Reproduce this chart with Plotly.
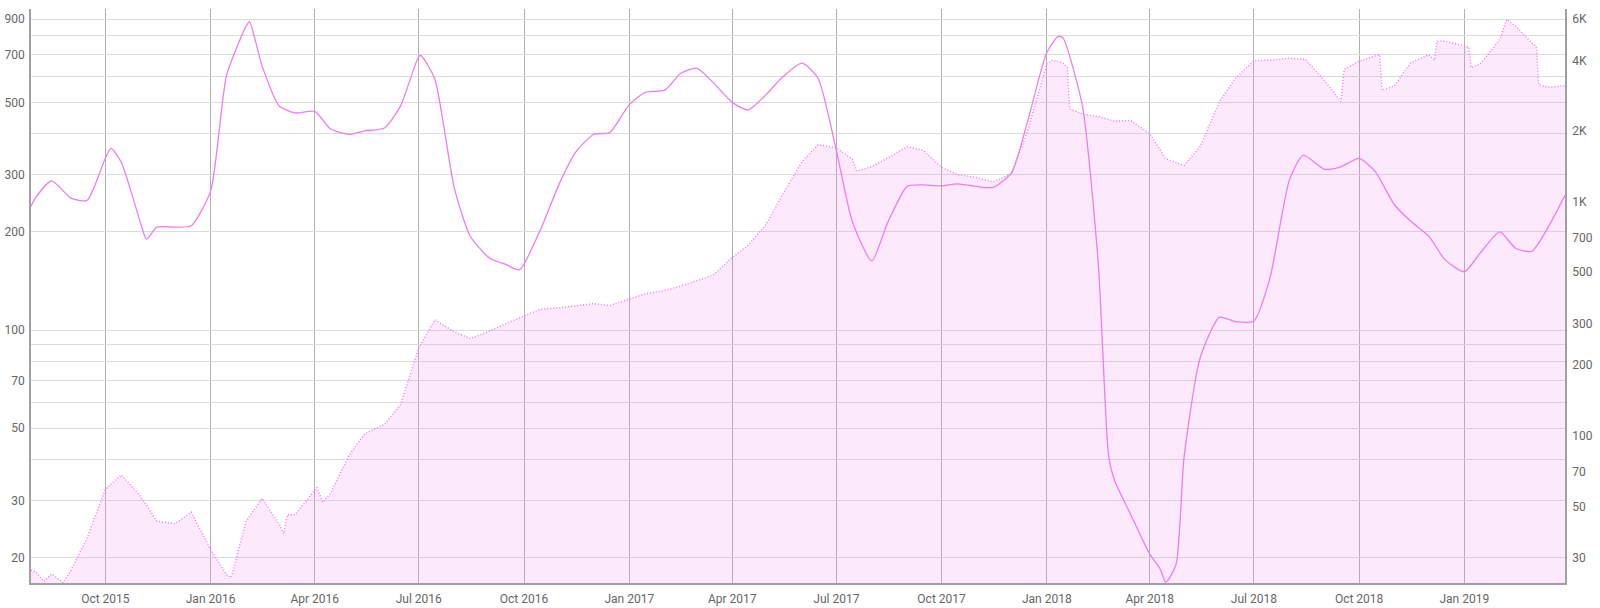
import plotly.graph_objects as go

# Solid line (left axis)
solid_dates = [
    "2015-07-28", "2015-08-01", "2015-08-15", "2015-09-01", "2015-09-15", "2015-10-01", "2015-10-06",
    "2015-10-15", "2015-11-01", "2015-11-06", "2015-11-15", "2015-12-01", "2015-12-15", "2016-01-01",
    "2016-01-15", "2016-02-01", "2016-02-04", "2016-02-15", "2016-03-01", "2016-03-15", "2016-04-01",
    "2016-04-15", "2016-05-01", "2016-05-15", "2016-06-01", "2016-06-15", "2016-07-01", "2016-07-03",
    "2016-07-15", "2016-08-01", "2016-08-15", "2016-09-01", "2016-09-15", "2016-09-27", "2016-10-15",
    "2016-11-01", "2016-11-15", "2016-12-01", "2016-12-15", "2017-01-01", "2017-01-15", "2017-02-01",
    "2017-02-15", "2017-03-01", "2017-03-15", "2017-04-01", "2017-04-15", "2017-05-01", "2017-05-15",
    "2017-06-01", "2017-06-15", "2017-07-01", "2017-07-15", "2017-08-01", "2017-08-15", "2017-09-01",
    "2017-09-15", "2017-10-01", "2017-10-15", "2017-11-01", "2017-11-15", "2017-12-01", "2017-12-15",
    "2018-01-01", "2018-01-11", "2018-01-15", "2018-02-01", "2018-02-15", "2018-02-24", "2018-03-01",
    "2018-03-15", "2018-04-01", "2018-04-10", "2018-04-15", "2018-04-24", "2018-05-01", "2018-05-15",
    "2018-06-01", "2018-06-15", "2018-07-01", "2018-07-15", "2018-08-01", "2018-08-13", "2018-09-01",
    "2018-09-15", "2018-10-01", "2018-10-15", "2018-11-01", "2018-11-15", "2018-12-01", "2018-12-15",
    "2019-01-01", "2019-01-15", "2019-02-01", "2019-02-15", "2019-03-01", "2019-03-15", "2019-03-30",
]
solid_values = [
    240, 255, 287, 254, 250, 337, 361,
    327, 212, 190, 207, 207, 209, 267,
    606, 856, 884, 647, 487, 464, 469,
    414, 399, 409, 417, 487, 692, 696,
    590, 273, 194, 166, 159, 153, 202,
    282, 351, 399, 404, 492, 537, 545,
    614, 637, 577, 500, 474, 530, 598,
    660, 593, 356, 215, 163, 214, 276,
    279, 277, 281, 276, 274, 303, 434,
    711, 797, 790, 490, 160, 41.3, 34.7,
    27.3, 20.5, 18.5, 16.8, 19.1, 40.7, 82,
    109.5, 106.1, 106.6, 144, 288, 344, 311.5,
    317, 336.5, 307, 242, 216, 194, 164.5,
    151, 172.6, 200, 178, 174.4, 206, 259,
]

# Dotted filled area (right axis)
area_dates = [
    "2015-07-28", "2015-08-01", "2015-08-08", "2015-08-15", "2015-08-25", "2015-09-01", "2015-09-15",
    "2015-10-01", "2015-10-15", "2015-11-01", "2015-11-15", "2015-12-01", "2015-12-15", "2016-01-01",
    "2016-01-15", "2016-01-19", "2016-02-01", "2016-02-15", "2016-03-01", "2016-03-05", "2016-03-08",
    "2016-03-15", "2016-04-03", "2016-04-08", "2016-04-15", "2016-05-01", "2016-05-15", "2016-06-01",
    "2016-06-15", "2016-07-01", "2016-07-15", "2016-08-01", "2016-08-15", "2016-09-01", "2016-09-15",
    "2016-10-01", "2016-10-15", "2016-11-01", "2016-11-15", "2016-12-01", "2016-12-15", "2017-01-01",
    "2017-01-15", "2017-02-01", "2017-02-15", "2017-03-01", "2017-03-15", "2017-04-01", "2017-04-15",
    "2017-05-01", "2017-05-15", "2017-06-01", "2017-06-15", "2017-07-01", "2017-07-15", "2017-07-19",
    "2017-08-01", "2017-08-15", "2017-09-01", "2017-09-15", "2017-10-01", "2017-10-15", "2017-11-01",
    "2017-11-15", "2017-12-01", "2017-12-15", "2018-01-01", "2018-01-06", "2018-01-15", "2018-01-19",
    "2018-01-21", "2018-02-01", "2018-02-15", "2018-03-01", "2018-03-15", "2018-04-01", "2018-04-15",
    "2018-05-01", "2018-05-15", "2018-06-01", "2018-06-15", "2018-07-01", "2018-07-15", "2018-08-01",
    "2018-08-15", "2018-09-01", "2018-09-15", "2018-09-18", "2018-10-01", "2018-10-15", "2018-10-19",
    "2018-10-21", "2018-11-01", "2018-11-15", "2018-12-01", "2018-12-06", "2018-12-08", "2018-12-15",
    "2019-01-01", "2019-01-05", "2019-01-07", "2019-01-15", "2019-02-01", "2019-02-07", "2019-02-15",
    "2019-03-01", "2019-03-05", "2019-03-07", "2019-03-15", "2019-03-30",
]
area_values = [
    26.7, 26.4, 23.9, 25.7, 23.6, 26.7, 36.6,
    59.2, 68.1, 55.0, 43.2, 42.1, 47.2, 32.7,
    25.5, 24.8, 43.2, 54.0, 41.9, 38.2, 46.0,
    46.0, 60.3, 52.0, 57.0, 82.6, 102.3, 111.8,
    135.6, 237, 313, 278, 260, 280, 301,
    324.5, 347, 352, 358.5, 366.6, 360, 383,
    404, 417, 436, 459.5, 484, 576, 651,
    803, 1072, 1479, 1747, 1696, 1518, 1348,
    1410, 1535, 1715, 1653, 1399, 1304, 1266,
    1211, 1314, 1988, 3869, 4017, 3912, 3729,
    2483, 2366, 2306, 2205, 2222, 1952, 1523,
    1425, 1715, 2674, 3363, 3987, 4017, 4091,
    4047, 3277, 2674, 3661, 3972, 4182, 4230,
    2987, 3123, 3912, 4230, 4017, 4832, 4832,
    4621, 4571, 3729, 3869, 4921, 5988, 5603,
    4744, 4600, 3158, 3077, 3123,
]

left_ticks = [20, 30, 40, 50, 60, 70, 80, 90, 100, 200, 300, 400, 500, 600, 700, 800, 900]
left_labels = ["20", "30", "", "50", "", "70", "", "", "100", "200", "300", "", "500", "", "700", "", "900"]
right_ticks = [30, 50, 70, 100, 200, 300, 500, 700, 1000, 2000, 4000, 6000]
right_labels = ["30", "50", "70", "100", "200", "300", "500", "700", "1K", "2K", "4K", "6K"]
x_ticks = ["2015-10-01", "2016-01-01", "2016-04-01", "2016-07-01", "2016-10-01", "2017-01-01",
           "2017-04-01", "2017-07-01", "2017-10-01", "2018-01-01", "2018-04-01", "2018-07-01",
           "2018-10-01", "2019-01-01"]
x_labels = ["Oct 2015", "Jan 2016", "Apr 2016", "Jul 2016", "Oct 2016", "Jan 2017", "Apr 2017",
            "Jul 2017", "Oct 2017", "Jan 2018", "Apr 2018", "Jul 2018", "Oct 2018", "Jan 2019"]

LINE = "#ee7cee"

fig = go.Figure()
fig.add_trace(go.Scatter(
    x=area_dates, y=area_values, yaxis="y", mode="lines",
    line=dict(color=LINE, width=1.5, dash="1px,2px"),
    fill="tozeroy", fillcolor="rgba(238,130,238,0.17)",
    hoverinfo="skip", showlegend=False,
))
fig.add_trace(go.Scatter(
    x=solid_dates, y=solid_values, yaxis="y2", mode="lines",
    line=dict(color=LINE, width=1.3, shape="spline", smoothing=0.6),
    showlegend=False,
))

fig.update_layout(
    width=1600, height=608,
    margin=dict(l=31, r=35, t=9, b=25, autoexpand=False),
    paper_bgcolor="white", plot_bgcolor="white",
    font=dict(family="Roboto", size=12, color="#666666"),
    xaxis=dict(
        type="date", range=["2015-07-28", "2019-03-30"],
        tickvals=x_ticks, ticktext=x_labels, automargin=False,
        showgrid=True, gridcolor="#b0b0b0", gridwidth=1,
        showline=True, linecolor="#a0a0a0", linewidth=1.5,
        ticks="outside", ticklen=4, tickcolor="rgba(0,0,0,0)",
        zeroline=False,
    ),
    yaxis=dict(
        type="log", side="right", range=[1.3716, 3.822],
        tickvals=right_ticks, ticktext=right_labels, automargin=False,
        showgrid=False, showline=True, linecolor="#a0a0a0", linewidth=1.5,
        ticks="outside", ticklen=3, tickcolor="rgba(0,0,0,0)",
        zeroline=False,
    ),
    yaxis2=dict(
        type="log", side="left", overlaying="y", range=[1.2233, 2.9856],
        tickvals=left_ticks, ticktext=left_labels, automargin=False,
        showgrid=True, gridcolor="#dcdcdc", gridwidth=1,
        showline=True, linecolor="#a0a0a0", linewidth=1.5,
        ticks="outside", ticklen=2, tickcolor="rgba(0,0,0,0)",
        zeroline=False,
    ),
)

fig.write_html(
    "out.html",
    config={"displayModeBar": False},
    post_script="document.body.style.margin='0';document.body.style.overflow='hidden';",
)
